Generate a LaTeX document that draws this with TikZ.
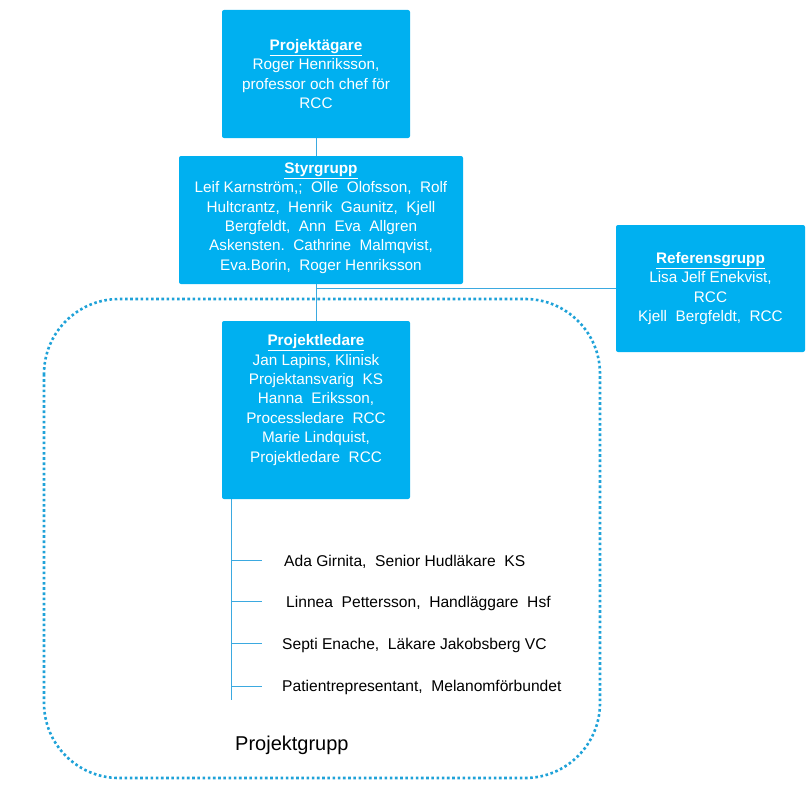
\documentclass[tikz,border=0pt]{standalone}
\usepackage{fontspec}
\setmainfont{Liberation Sans}
\definecolor{boxblue}{HTML}{00B0F0}
\definecolor{lineblue}{HTML}{3BA9E0}
\definecolor{dotblue}{HTML}{1FA2D8}
\begin{document}
\begin{tikzpicture}[x=1pt,y=-1pt,
  box/.style={draw=none, fill=boxblue, rounded corners=2pt, inner sep=0pt},
  boxtext/.style={text=white, align=center, font=\fontsize{15.3}{19.4}\selectfont, inner sep=0pt},
  conn/.style={draw=lineblue, line width=0.8pt},
  member/.style={anchor=west, font=\fontsize{15.6}{18}\selectfont, inner sep=0pt},
  groupborder/.style={draw=dotblue, line width=2.6pt, dash pattern=on 2.6pt off 2.6pt, rounded corners=75pt}]
\useasboundingbox (0,0) rectangle (810,784);

% dotted project group border
\draw[groupborder] (44,299) rectangle (600,778);
\node[anchor=west, font=\fontsize{20}{24}\selectfont, inner sep=0pt] (pgrupp) at (235,745) {Projektgrupp};

% boxes
\node[box, minimum width=188pt, minimum height=128pt] (agare) at (316,74) {};
\node[box, minimum width=284pt, minimum height=128pt] (styr) at (321,220) {};
\node[box, minimum width=189pt, minimum height=127pt] (ref) at (710.5,288.5) {};
\node[box, minimum width=188pt, minimum height=178pt] (led) at (316,410) {};

% box texts
\node[boxtext] (agaretxt) at (agare.center) {\underline{\textbf{Projektägare}}\\Roger Henriksson,\\professor och chef för\\RCC};
\node[boxtext] (styrtxt) at ([yshift=2pt]styr.center) {\underline{\textbf{Styrgrupp}}\\Leif Karnström,;\ \ Olle\ \ Olofsson,\ \ Rolf\\Hultcrantz,\ \ Henrik\ \ Gaunitz,\ \ Kjell\\Bergfeldt,\ \ Ann\ \ Eva\ \ Allgren\\Askensten.\ \ Cathrine\ \ Malmqvist,\\Eva.Borin,\ \ Roger Henriksson};
\node[boxtext] (reftxt) at (ref.center) {\underline{\textbf{Referensgrupp}}\\Lisa Jelf Enekvist,\\RCC\\Kjell\ \ Bergfeldt,\ \ RCC};
\node[boxtext] (ledtxt) at ([yshift=10pt]led.center) {\underline{\textbf{Projektledare}}\\Jan Lapins, Klinisk\\Projektansvarig\ \ KS\\Hanna\ \ Eriksson,\\Processledare\ \ RCC\\Marie Lindquist,\\Projektledare\ \ RCC};

% connectors
\draw[conn] (agare.south) -- (agare.south |- styr.north);
\draw[conn] (led.north |- styr.south) -- (led.north);
\coordinate (junc) at (led.north |- ref.west);
\draw[conn] (junc) -- (ref.west);

% member list
\node[member] (m1) at (284,562) {Ada Girnita,\ \ Senior Hudläkare\ \ KS};
\node[member] (m2) at (286,603) {Linnea\ \ Pettersson,\ \ Handläggare\ \ Hsf};
\node[member] (m3) at (282,645) {Septi Enache,\ \ Läkare Jakobsberg VC};
\node[member] (m4) at (282,687) {Patientrepresentant,\ \ Melanomförbundet};

\coordinate (vtop) at ([xshift=-85pt]led.south);
\coordinate (vbot) at (vtop |- 0,700);
\draw[conn] (vtop) -- (vbot);
\foreach \i/\y in {1/560,2/601,3/643,4/686}{
  \coordinate (ta\i) at (vtop |- 0,\y);
  \coordinate (tb\i) at (262,\y);
  \draw[conn] (ta\i) -- (tb\i);
}
\end{tikzpicture}
\end{document}
